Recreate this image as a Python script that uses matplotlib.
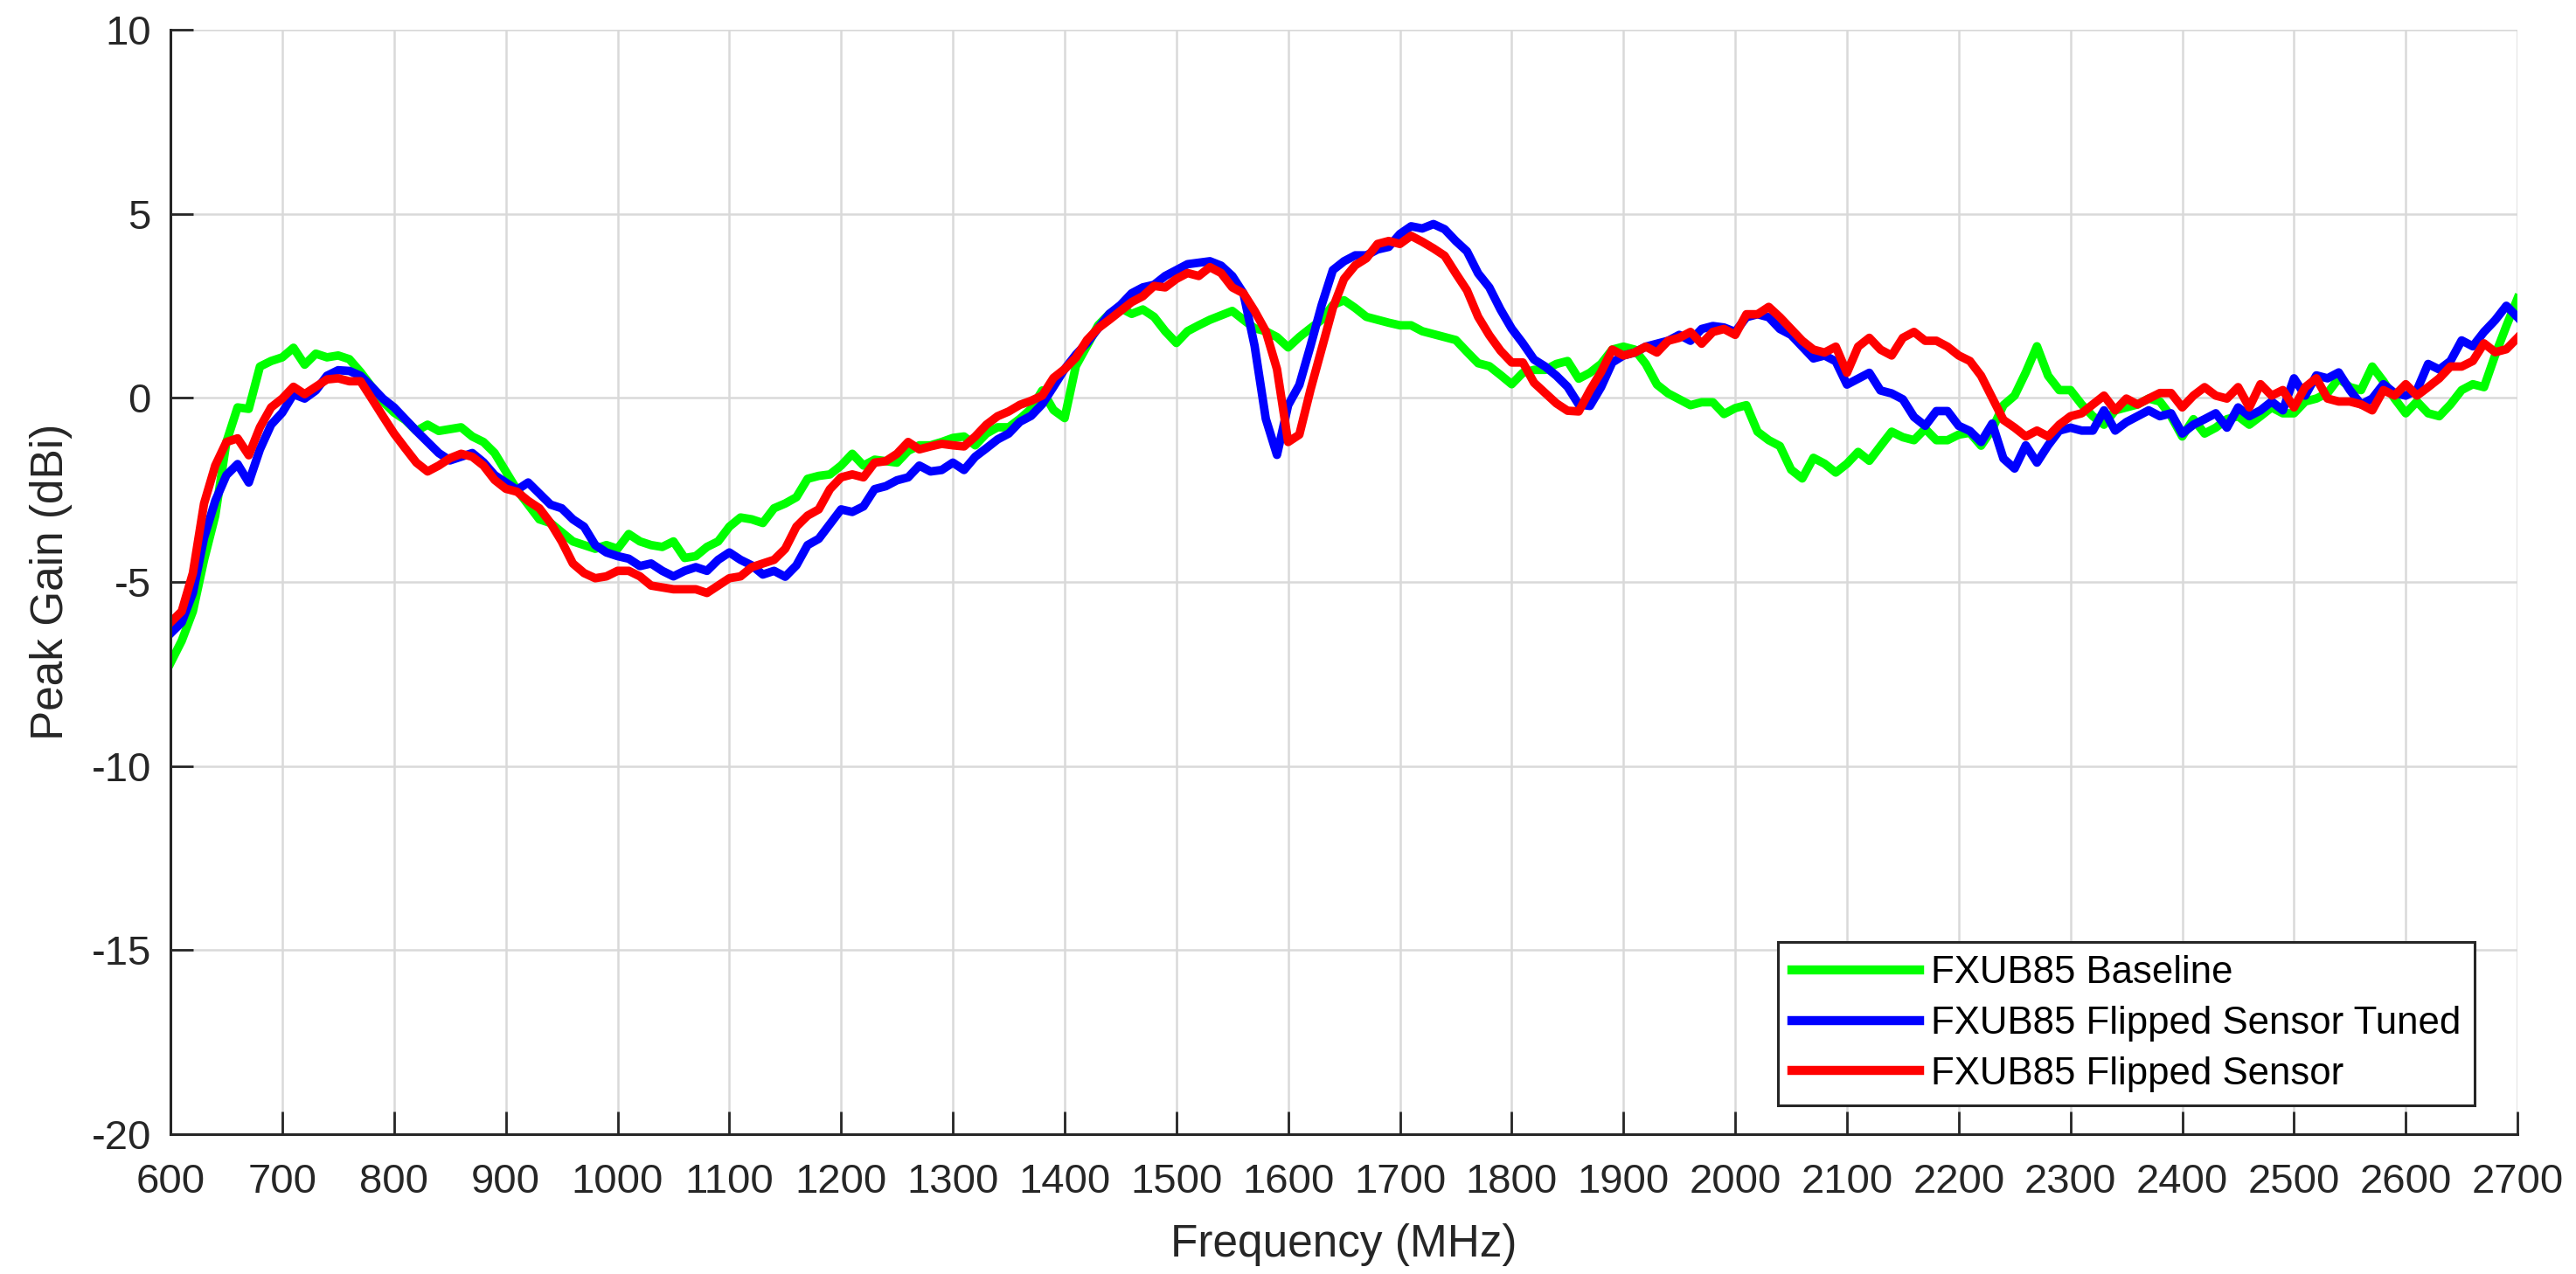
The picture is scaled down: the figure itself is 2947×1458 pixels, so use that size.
import numpy as np
from matplotlib import pyplot as plt

plt.rcParams['font.family'] = ['Liberation Sans', 'DejaVu Sans']
plt.rcParams['axes.unicode_minus'] = False  # Bindestrich wie im Original

# Frequenzachse, 10 MHz Schritte
freq = np.arange(600, 2701, 10)

# FXUB85 Baseline (gruen)
gain_baseline = [
    -7.2, -6.6, -5.8, -4.4, -3.2, -1.2, -0.26, -0.3, 0.85, 1.0,          # 600
    1.1, 1.36, 0.9, 1.2, 1.1, 1.15, 1.05, 0.7, 0.3, -0.1,                # 700
    -0.4, -0.6, -0.9, -0.73, -0.9, -0.85, -0.8, -1.05, -1.2, -1.5,       # 800
    -2.0, -2.5, -2.9, -3.3, -3.4, -3.65, -3.9, -4.0, -4.1, -4.0,         # 900
    -4.1, -3.7, -3.9, -4.0, -4.05, -3.9, -4.35, -4.3, -4.05, -3.9,       # 1000
    -3.5, -3.25, -3.3, -3.4, -3.0, -2.87, -2.7, -2.2, -2.12, -2.08,      # 1100
    -1.84, -1.52, -1.84, -1.68, -1.72, -1.76, -1.44, -1.29, -1.29, -1.2, # 1200
    -1.09, -1.05, -1.29, -0.97, -0.8, -0.8, -0.57, -0.3, 0.2, -0.33,     # 1300
    -0.55, 0.86, 1.41, 1.97, 2.28, 2.44, 2.28, 2.4, 2.2, 1.81,           # 1400
    1.49, 1.81, 1.97, 2.12, 2.24, 2.36, 2.12, 1.89, 1.81, 1.65,          # 1500
    1.37, 1.65, 1.89, 2.12, 2.52, 2.65, 2.44, 2.2, 2.12, 2.04,           # 1600
    1.97, 1.97, 1.81, 1.73, 1.65, 1.57, 1.25, 0.94, 0.86, 0.62,          # 1700
    0.37, 0.68, 0.76, 0.76, 0.92, 1.0, 0.52, 0.68, 0.92, 1.31,           # 1800
    1.39, 1.31, 0.92, 0.36, 0.12, -0.04, -0.2, -0.12, -0.12, -0.44,      # 1900
    -0.28, -0.2, -0.92, -1.15, -1.31, -1.95, -2.19, -1.63, -1.79, -2.03, # 2000
    -1.79, -1.47, -1.71, -1.31, -0.92, -1.07, -1.15, -0.84, -1.15, -1.15,# 2100
    -1.0, -0.95, -1.3, -0.85, -0.2, 0.06, 0.69, 1.4, 0.6, 0.21,          # 2200
    0.21, -0.18, -0.5, -0.73, -0.34, -0.26, -0.18, -0.02, -0.1, -0.5,    # 2300
    -1.05, -0.58, -0.97, -0.81, -0.58, -0.5, -0.73, -0.5, -0.26, -0.42,  # 2400
    -0.42, -0.1, -0.02, 0.13, 0.53, 0.29, 0.21, 0.85, 0.45, -0.02,       # 2500
    -0.42, -0.1, -0.42, -0.5, -0.18, 0.21, 0.37, 0.29, 1.16, 1.95,       # 2600
    2.7,
]

# FXUB85 Flipped Sensor Tuned (blau)
gain_tuned = [
    -6.4, -6.1, -5.3, -3.8, -2.8, -2.1, -1.8, -2.3, -1.4, -0.73,         # 600
    -0.4, 0.1, -0.02, 0.2, 0.6, 0.75, 0.73, 0.6, 0.3, -0.02,             # 700
    -0.26, -0.58, -0.9, -1.2, -1.5, -1.7, -1.6, -1.5, -1.75, -2.1,       # 800
    -2.3, -2.5, -2.3, -2.6, -2.9, -3.0, -3.3, -3.5, -4.0, -4.2,          # 900
    -4.3, -4.37, -4.57, -4.5, -4.7, -4.85, -4.7, -4.6, -4.7, -4.4,       # 1000
    -4.2, -4.4, -4.55, -4.8, -4.7, -4.86, -4.55, -4.0, -3.83, -3.43,     # 1100
    -3.03, -3.1, -2.95, -2.48, -2.4, -2.24, -2.16, -1.84, -2.0, -1.96,   # 1200
    -1.76, -1.96, -1.6, -1.37, -1.13, -0.97, -0.65, -0.49, -0.17, 0.3,   # 1300
    0.78, 1.17, 1.49, 1.89, 2.28, 2.52, 2.84, 3.0, 3.07, 3.31,           # 1400
    3.47, 3.63, 3.67, 3.71, 3.59, 3.31, 2.84, 1.41, -0.57, -1.55,        # 1500
    -0.2, 0.35, 1.41, 2.52, 3.47, 3.71, 3.87, 3.87, 4.03, 4.1,           # 1600
    4.45, 4.66, 4.6, 4.72, 4.58, 4.26, 3.98, 3.38, 3.0, 2.4,             # 1700
    1.88, 1.48, 1.04, 0.85, 0.6, 0.3, -0.18, -0.22, 0.29, 0.96,          # 1800
    1.15, 1.23, 1.39, 1.47, 1.55, 1.71, 1.55, 1.87, 1.95, 1.91,          # 1900
    1.79, 2.19, 2.27, 2.19, 1.87, 1.71, 1.39, 1.07, 1.15, 0.99,          # 2000
    0.36, 0.52, 0.68, 0.2, 0.12, -0.04, -0.52, -0.76, -0.36, -0.36,      # 2100
    -0.76, -0.9, -1.2, -0.7, -1.65, -1.92, -1.29, -1.76, -1.29, -0.89,   # 2200
    -0.81, -0.89, -0.89, -0.34, -0.89, -0.66, -0.5, -0.34, -0.5, -0.42,  # 2300
    -0.97, -0.73, -0.58, -0.42, -0.81, -0.26, -0.5, -0.34, -0.1, -0.34,  # 2400
    0.53, 0.06, 0.61, 0.53, 0.69, 0.21, -0.18, -0.02, 0.37, 0.13,        # 2500
    0.06, 0.21, 0.92, 0.77, 1.0, 1.56, 1.4, 1.79, 2.11, 2.5,             # 2600
    2.19,
]

# FXUB85 Flipped Sensor (rot)
gain_flipped = [
    -6.1, -5.8, -4.76, -2.87, -1.84, -1.2, -1.1, -1.56, -0.8, -0.26,     # 600
    -0.02, 0.3, 0.1, 0.3, 0.5, 0.53, 0.45, 0.45, -0.02, -0.5,            # 700
    -0.97, -1.37, -1.76, -2.0, -1.84, -1.64, -1.52, -1.6, -1.84, -2.23,  # 800
    -2.47, -2.55, -2.8, -3.0, -3.4, -3.9, -4.5, -4.76, -4.9, -4.85,      # 900
    -4.7, -4.7, -4.85, -5.1, -5.15, -5.2, -5.2, -5.2, -5.3, -5.1,        # 1000
    -4.9, -4.85, -4.6, -4.5, -4.4, -4.1, -3.5, -3.2, -3.03, -2.48,       # 1100
    -2.16, -2.08, -2.16, -1.76, -1.72, -1.52, -1.2, -1.4, -1.32, -1.25,  # 1200
    -1.29, -1.32, -1.05, -0.73, -0.5, -0.37, -0.19, -0.08, 0.06, 0.54,   # 1300
    0.78, 1.09, 1.57, 1.89, 2.12, 2.36, 2.6, 2.76, 3.04, 3.0,            # 1400
    3.23, 3.39, 3.31, 3.55, 3.39, 3.0, 2.84, 2.36, 1.81, 0.78,           # 1500
    -1.2, -1.0, 0.22, 1.33, 2.44, 3.23, 3.6, 3.79, 4.18, 4.26,           # 1600
    4.18, 4.4, 4.24, 4.06, 3.86, 3.38, 2.92, 2.2, 1.7, 1.28,             # 1700
    0.96, 0.96, 0.41, 0.13, -0.15, -0.35, -0.37, 0.2, 0.7, 1.31,         # 1800
    1.15, 1.23, 1.39, 1.23, 1.55, 1.63, 1.79, 1.47, 1.79, 1.87,          # 1900
    1.71, 2.27, 2.27, 2.47, 2.19, 1.87, 1.55, 1.31, 1.23, 1.39,          # 2000
    0.68, 1.39, 1.63, 1.31, 1.15, 1.63, 1.79, 1.55, 1.55, 1.39,          # 2100
    1.15, 1.0, 0.6, 0.0, -0.6, -0.81, -1.05, -0.89, -1.05, -0.73,        # 2200
    -0.5, -0.42, -0.18, 0.06, -0.34, -0.02, -0.18, -0.02, 0.13, 0.13,    # 2300
    -0.26, 0.06, 0.29, 0.06, -0.02, 0.29, -0.26, 0.37, 0.06, 0.21,       # 2400
    -0.26, 0.29, 0.53, -0.02, -0.1, -0.1, -0.18, -0.34, 0.21, 0.06,      # 2500
    0.37, 0.06, 0.29, 0.53, 0.85, 0.85, 1.0, 1.48, 1.24, 1.32,           # 2600
    1.63,
]

labels = ["FXUB85 Baseline", "FXUB85 Flipped Sensor Tuned", "FXUB85 Flipped Sensor"]
colors = ["#00ff00", "#0000ff", "#ff0000"]

xticks = np.arange(600, 2701, 100)
yticks = np.arange(-20, 11, 5)

dark = "#262626"

fig = plt.figure(figsize=(29.47, 14.58), dpi=100)
ax = fig.add_axes([0.0662, 0.1098, 0.9111, 0.8669])

for y, lab, c in zip([gain_baseline, gain_tuned, gain_flipped], labels, colors):
    ax.plot(freq, y, color=c, lw=7, label=lab, solid_joinstyle="round")

ax.set_xlim(600, 2700)
ax.set_ylim(-20, 10)
ax.set_xticks(xticks)
ax.set_yticks(yticks)

ax.grid(True, color="#d9d9d9", lw=1.8)
ax.set_axisbelow(True)

# MATLAB look: nur linke und untere Achse, Ticks nach innen
ax.spines["top"].set_visible(False)
ax.spines["right"].set_visible(False)
for s in ["left", "bottom"]:
    ax.spines[s].set_color(dark)
    ax.spines[s].set_linewidth(2.2)
ax.tick_params(axis="both", direction="in", length=19, width=2, color=dark,
               labelcolor=dark, labelsize=34)
ax.tick_params(axis="x", pad=24)
ax.tick_params(axis="y", pad=16)

ax.set_xlabel("Frequency (MHz)", fontsize=37, color=dark, va="center")
ax.set_ylabel("Peak Gain (dBi)", fontsize=37, color=dark, va="center")
ax.xaxis.set_label_coords(0.5, -0.1005)
ax.yaxis.set_label_coords(-0.051, 0.5)

leg = ax.legend(loc="lower right", bbox_to_anchor=(0.9817, 0.026), borderaxespad=0,
                fontsize=31.5, fancybox=False, framealpha=1, edgecolor=dark,
                handlelength=3.35, handletextpad=0.3, borderpad=0.35, labelspacing=0.38)
leg.get_frame().set_linewidth(2.2)
for line in leg.get_lines():
    line.set_linewidth(7.5)

fig.savefig("out.png", dpi=100)
